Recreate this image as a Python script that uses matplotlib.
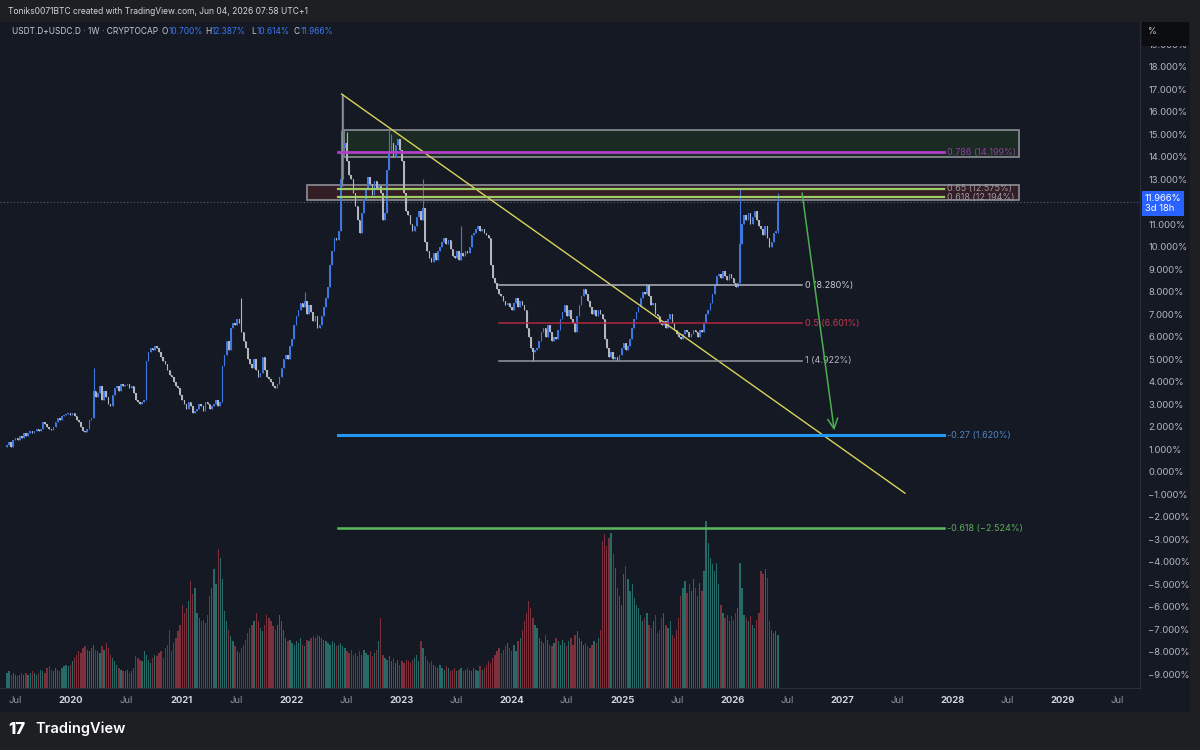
import matplotlib
matplotlib.use("Agg")
import matplotlib.pyplot as plt
import matplotlib.dates as mdates
import pandas as pd
from matplotlib.patches import Rectangle, FancyArrowPatch

plt.rcParams['font.family'] = ['Inter', 'DejaVu Sans']

# weekly closes of USDT.D + USDC.D (%)
closes = [
    1.2, 1.3, 1.1, 1.4, 1.5, 1.4, 1.6, 1.5, 1.7, 1.6,
    1.7, 1.8, 1.7, 1.8, 1.9, 1.8, 1.9, 2.2, 2.1, 2.0,
    1.9, 1.85, 2.0, 2.2, 2.4, 2.3, 2.45, 2.5, 2.55, 2.6,
    2.5, 2.6, 2.45, 2.3, 2.2, 2.0, 1.8, 1.75, 1.9, 2.3,
    2.4, 3.6, 3.3, 3.5, 3.8, 3.2, 3.6, 3.3, 3.0, 2.9,
    3.4, 3.7, 3.8, 3.6, 3.9, 3.8, 3.85, 3.9, 3.7, 3.8,
    3.5, 3.2, 3.1, 3.0, 3.1, 3.2, 4.9, 5.3, 5.5, 5.4,
    5.6, 5.5, 5.3, 5.1, 4.9, 4.8, 4.5, 4.3, 4.2, 4.0,
    3.8, 3.7, 3.4, 3.2, 3.0, 2.8, 3.1, 2.9, 2.6, 2.7,
    2.8, 3.0, 2.9, 2.7, 3.1, 3.0, 2.8, 2.9, 3.0, 3.2,
    2.9, 3.1, 4.7, 5.2, 5.8, 5.4, 6.4, 6.6, 6.5, 6.8,
    6.6, 6.2, 5.8, 5.5, 5.0, 4.8, 4.6, 5.0, 4.5, 4.2,
    4.4, 5.1, 4.5, 4.2, 4.1, 4.0, 3.8, 3.7, 3.9, 4.2,
    4.6, 5.0, 5.2, 5.0, 5.6, 5.9, 6.5, 6.9, 7.2, 7.5,
    7.3, 7.6, 7.0, 7.4, 7.1, 6.7, 6.9, 6.4, 6.5, 6.9,
    7.3, 7.7, 8.2, 9.2, 9.8, 10.4, 10.3, 10.7, 13.0, 14.4,
    14.6, 13.8, 13.2, 13.0, 12.4, 11.8, 11.2, 10.6, 11.5, 12.1,
    12.6, 13.1, 12.8, 12.3, 12.9, 12.6, 12.7, 12.4, 11.2, 11.5,
    13.4, 14.2, 14.6, 14.0, 14.5, 14.8, 14.3, 13.8, 12.4, 11.6,
    11.4, 11.0, 10.7, 10.9, 11.3, 11.6, 11.2, 11.7, 10.2, 9.8,
    9.5, 9.3, 9.7, 9.4, 9.8, 10.0, 10.2, 10.4, 10.1, 10.3,
    9.9, 9.6, 9.5, 9.8, 9.4, 9.7, 9.6, 9.8, 9.7, 10.0,
    10.5, 10.6, 10.8, 10.9, 10.7, 10.8, 10.6, 10.5, 10.4, 9.2,
    8.6, 8.4, 8.1, 7.9, 7.8, 7.6, 7.4, 7.5, 7.3, 7.2,
    7.5, 7.7, 7.3, 7.6, 7.4, 7.2, 6.4, 6.0, 5.5, 5.3,
    5.4, 5.5, 5.8, 6.2, 6.4, 6.0, 6.5, 6.2, 5.8, 6.0,
    5.9, 6.3, 6.8, 7.1, 7.4, 6.9, 7.2, 6.8, 6.6, 6.2,
    6.9, 7.4, 7.8, 8.1, 7.9, 7.6, 7.3, 7.0, 7.2, 6.9,
    7.2, 7.0, 6.8, 5.9, 5.5, 5.1, 5.3, 5.0, 5.1, 4.95,
    5.2, 5.5, 5.7, 5.4, 5.6, 5.9, 6.4, 6.8, 7.1, 7.3,
    7.7, 8.0, 7.9, 8.3, 7.8, 7.4, 7.5, 7.0, 6.9, 6.6,
    6.5, 6.7, 6.4, 6.8, 7.0, 6.6, 6.3, 6.1, 6.0, 5.9,
    6.1, 6.3, 6.2, 6.0, 6.1, 6.3, 6.2, 6.0, 6.3, 6.2,
    6.6, 7.0, 7.2, 7.5, 7.9, 8.3, 8.7, 8.8, 8.6, 8.9,
    8.7, 8.5, 8.8, 8.6, 8.4, 8.2, 8.4, 10.1, 11.0, 11.4,
    11.2, 11.5, 11.0, 11.3, 11.6, 11.2, 10.9, 10.8, 10.5, 10.9,
    10.4, 10.0, 10.2, 10.6, 10.7, 11.966,
]
first_open = 1.1

# notable wicks (week index -> value)
wick_highs = {41: 4.6, 111: 7.7, 141: 8.0, 158: 15.2, 159: 16.8, 161: 15.1,
              181: 15.2, 182: 15.0, 197: 13.0, 215: 10.9, 347: 12.6, 365: 12.387}
wick_lows = {249: 4.922, 289: 4.9, 365: 10.614}

# volume, relative to the highest bar (=100)
volumes = [
    9, 10, 8, 9, 8, 7, 8, 9, 8, 9,
    8, 9, 10, 9, 8, 9, 11, 10, 9, 12,
    13, 11, 10, 12, 11, 10, 12, 13, 14, 13,
    14, 16, 18, 20, 22, 21, 24, 25, 23, 22,
    24, 26, 23, 22, 21, 25, 23, 27, 24, 20,
    18, 16, 14, 12, 11, 10, 10, 11, 9, 10,
    12, 19, 18, 17, 16, 22, 20, 17, 15, 18,
    20, 19, 21, 22, 18, 24, 26, 35, 22, 27,
    30, 34, 38, 50, 45, 48, 52, 64, 56, 60,
    45, 42, 40, 41, 39, 44, 55, 60, 71, 62,
    83, 78, 65, 46, 40, 35, 31, 28, 25, 22,
    21, 24, 26, 29, 33, 36, 38, 40, 45, 40,
    36, 34, 38, 44, 42, 40, 37, 35, 38, 44,
    40, 35, 30, 28, 29, 27, 26, 28, 27, 30,
    26, 25, 29, 28, 30, 31, 30, 32, 31, 30,
    29, 28, 27, 26, 28, 27, 25, 26, 27, 25,
    24, 22, 21, 23, 20, 21, 19, 22, 20, 23,
    21, 20, 22, 19, 21, 23, 28, 42, 20, 18,
    17, 19, 16, 18, 15, 17, 14, 16, 15, 17,
    16, 15, 17, 18, 20, 16, 28, 24, 19, 17,
    15, 16, 14, 13, 12, 14, 12, 11, 13, 12,
    10, 11, 12, 10, 11, 12, 10, 11, 12, 11,
    10, 12, 11, 10, 13, 11, 12, 14, 16, 15,
    18, 20, 22, 24, 21, 23, 25, 27, 24, 22,
    26, 22, 28, 30, 35, 40, 45, 52, 48, 42,
    38, 36, 30, 28, 27, 32, 29, 26, 25, 27,
    30, 28, 26, 29, 27, 25, 28, 30, 26, 32,
    34, 30, 28, 26, 27, 25, 24, 26, 28, 27,
    30, 35, 88, 92, 85, 90, 93, 80, 72, 60,
    55, 50, 68, 73, 65, 58, 62, 54, 50, 48,
    44, 40, 42, 45, 38, 36, 40, 44, 33, 35,
    42, 45, 38, 36, 40, 32, 30, 35, 42, 55,
    60, 64, 57, 62, 58, 65, 60, 55, 63, 58,
    70, 100, 87, 78, 74, 70, 75, 62, 50, 45,
    42, 44, 40, 43, 41, 45, 48, 75, 60, 44,
    42, 40, 43, 38, 36, 41, 45, 70, 68, 71,
    66, 40, 35, 33, 34, 32,
]

# fibonacci levels (level, price %)
fib_ext = [(0.786, 14.199), (0.65, 12.575), (0.618, 12.194), (-0.27, 1.620), (-0.618, -2.524)]
fib_ret = [(0, 8.280), (0.5, 6.601), (1, 4.922)]

BG = '#151924'
OUTER = '#1e1f22'
TXT = '#b2b5be'

dates = pd.date_range('2019-06-03', periods=len(closes), freq='7D')
xd = mdates.date2num(dates)
opens = [first_open] + closes[:-1]


def d(s):
    return mdates.date2num(pd.Timestamp(s))


fig = plt.figure(figsize=(12, 7.5), dpi=100, facecolor=OUTER)
# chart pane background incl. price/time scales
fig.patches.append(Rectangle((0, 38 / 750), 1190 / 1200, 690 / 750, transform=fig.transFigure,
                             facecolor=BG, edgecolor='none', zorder=-1))

rect = [0, 62 / 750, 1140 / 1200, 666 / 750]
vax = fig.add_axes(rect)
ax = fig.add_axes(rect, sharex=vax)
vax.set_zorder(1)
ax.set_zorder(2)
ax.patch.set_alpha(0)
vax.set_facecolor(BG)

# volume
up = [c >= o for o, c in zip(opens, closes)]
vcol = ['#2a7a74' if u else '#8e3540' for u in up]
vax.bar(xd, volumes, width=4.3, color=vcol, linewidth=0, alpha=0.85)
vax.set_ylim(0, 100 * 666 / 167)
vax.axis('off')

# zones
z1 = Rectangle((d('2022-06-23'), 13.98), d('2028-08-08') - d('2022-06-23'), 15.18 - 13.98,
               facecolor='#1b2a23', edgecolor='#8d9096', lw=1.2, zorder=1)
z2 = Rectangle((d('2022-02-23'), 12.07), d('2028-08-08') - d('2022-02-23'), 12.73 - 12.07,
               facecolor='#341d25', edgecolor='#8d9096', lw=1.2, zorder=1)
ax.add_patch(z1)
ax.add_patch(z2)

# current price dotted line
ax.axhline(closes[-1], color='#5d6272', lw=0.8, ls=(0, (1, 2)), zorder=1)

# candles
bottoms = [min(o, c) for o, c in zip(opens, closes)]
heights = [max(abs(c - o), 0.05) for o, c in zip(opens, closes)]
ccol = ['#3f76e0' if u else '#b3b6bd' for u in up]
for i in range(len(closes)):
    hi = wick_highs.get(i, max(opens[i], closes[i]))
    lo = wick_lows.get(i, min(opens[i], closes[i]))
    ax.vlines(xd[i], lo, hi, color=ccol[i], lw=0.8, zorder=2)
ax.bar(xd, heights, bottom=bottoms, width=5.2, color=ccol, linewidth=0, zorder=2)

# vertical leg of the fib tool
ax.vlines(d('2022-06-16'), 12.7, 16.78, color='#8d9096', lw=1, zorder=2)

# trend line
ax.plot([d('2022-06-16'), d('2027-07-27')], [16.78, -0.96], color='#d8d45a', lw=1, zorder=3)

# fib extension lines
ext_style = {0.786: ('#b03fc8', 2.0, '#8e3fa0'), 0.65: ('#9ccc65', 1.6, '#9a9ca2'),
             0.618: ('#9ccc65', 1.6, '#9a9ca2'), -0.27: ('#2196f3', 2.2, '#4f86c6'),
             -0.618: ('#5cb85c', 1.8, '#5cae5c')}
for lvl, price in fib_ext:
    col, lw, tcol = ext_style[lvl]
    ax.plot([d('2022-06-03'), d('2027-12-03')], [price, price], color=col, lw=lw, zorder=3)
    ptxt = f'{price:.3f}%'.replace('-', '\u2212')
    ax.text(d('2027-12-14'), price, f'{lvl:g} ({ptxt})', color=tcol, fontsize=6.5,
            va='center', ha='left', zorder=4)

# fib retracement
ret_style = {0: ('#b2b5be', '#c8cad0'), 0.5: ('#b0283f', '#c23a52'), 1: ('#9598a1', '#b2b5be')}
for lvl, price in fib_ret:
    col, tcol = ret_style[lvl]
    ax.plot([d('2023-11-20'), d('2026-08-19')], [price, price], color=col, lw=1.1, zorder=3)
    ax.text(d('2026-08-31'), price, f'{lvl:g} ({price:.3f}%)', color=tcol, fontsize=6.5,
            va='center', ha='left', zorder=4)

# projection arrow
arr = FancyArrowPatch((d('2026-08-19'), 12.5), (d('2026-12-06'), 1.71), arrowstyle='->',
                      mutation_scale=18, color='#4caf50', lw=1.1, zorder=4)
ax.add_patch(arr)

# axes (the 12% label sits under the last-price tag, so it is left out)
ax.set_xlim(d('2019-05-11'), d('2029-09-13'))
ax.set_ylim(-9.62, 19.98)
yt = [v for v in range(-9, 20) if v != 12]
ax.yaxis.tick_right()
ax.set_yticks(yt)
ax.set_yticklabels([f'{v:.3f}%'.replace('-', '\u2212') for v in yt])
ax.tick_params(axis='y', length=0, pad=6, labelsize=6.8, labelcolor=TXT)

xt, xl = [], []
for yr in range(2019, 2030):
    if yr > 2019:
        xt.append(d(f'{yr}-01-01'))
        xl.append(str(yr))
    xt.append(d(f'{yr}-07-01'))
    xl.append('Jul')
ax.set_xticks(xt)
ax.set_xticklabels(xl)
ax.tick_params(axis='x', length=0, pad=6, labelsize=6.8, labelcolor='#9598a1')
for t in ax.get_xticklabels():
    if t.get_text() != 'Jul':
        t.set_fontweight('bold')
        t.set_color('#d1d4dc')
for s in ['top', 'left']:
    ax.spines[s].set_visible(False)
ax.spines['right'].set_color('#2a2e39')
ax.spines['bottom'].set_color('#2a2e39')

# last price tag
ax.annotate('11.966%\n3d 18h', xy=(1.004, closes[-1]), xycoords=('axes fraction', 'data'),
            va='top', ha='left', fontsize=6.8, color='white', linespacing=1.1,
            xytext=(0, 6), textcoords='offset points', zorder=6,
            bbox=dict(boxstyle='square,pad=0.3', fc='#2962ff', ec='none'))

# "%" box top right
fig.patches.append(Rectangle((1142 / 1200, 1 - 46 / 750), 47 / 1200, 24 / 750,
                             transform=fig.transFigure, facecolor='#0c0d10', edgecolor='none', zorder=5))
fig.text(1148 / 1200, 1 - 31 / 750, '%', color='#d1d4dc', fontsize=6.5, va='center', zorder=6)

# header
fig.patches.append(Rectangle((0, 1 - 22 / 750), 1, 22 / 750, transform=fig.transFigure,
                             facecolor=OUTER, edgecolor='none', zorder=1))
fig.text(8 / 1200, 1 - 11 / 750, 'Toniks0071BTC created with TradingView.com, Jun 04, 2026 07:58 UTC+1',
         color='#d1d4dc', fontsize=6.1, va='center', zorder=6)
hy = 1 - 31 / 750
fig.text(12 / 1200, hy, 'USDT.D+USDC.D \u00b7 1W \u00b7 CRYPTOCAP', color='#c8cad0', fontsize=6,
         va='center', zorder=6)
for lx, lab, vx, val in [(162, 'O', 169, '10.700%'), (205, 'H', 212, '12.387%'),
                         (251, 'L', 257, '10.614%'), (294, 'C', 301, '11.966%')]:
    fig.text(lx / 1200, hy, lab, color='#c8cad0', fontsize=6, va='center', zorder=6)
    fig.text(vx / 1200, hy, val, color='#3a78f2', fontsize=6, va='center', zorder=6)

# footer
fig.text(8 / 1200, 1 - 729 / 750, '17', color='white', fontsize=12, fontweight='heavy', va='center')
fig.text(35 / 1200, 1 - 729 / 750, 'TradingView', color='white', fontsize=10.5,
         fontweight='semibold', va='center')

fig.savefig('out.png', dpi=100, facecolor=OUTER)
